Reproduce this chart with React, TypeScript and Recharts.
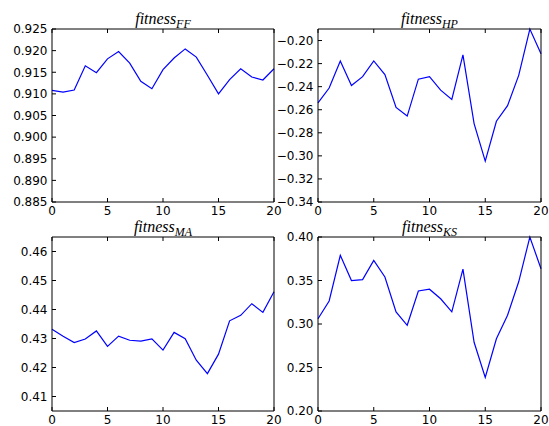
import { LineChart, Line, XAxis, YAxis } from "recharts";

const generations = [0, 1, 2, 3, 4, 5, 6, 7, 8, 9, 10, 11, 12, 13, 14, 15, 16, 17, 18, 19, 20];
const xTicks = [0, 5, 10, 15, 20];

const fitnessFF = [
  0.9108, 0.9104, 0.9109, 0.9165, 0.9149, 0.9181, 0.9198, 0.9171, 0.9129, 0.9112, 0.9156,
  0.9183, 0.9204, 0.9185, 0.9143, 0.91, 0.9133, 0.9158, 0.9139, 0.9132, 0.9158,
];
const fitnessHP = [
  -0.254, -0.2412, -0.2178, -0.239, -0.2313, -0.2177, -0.2295, -0.258, -0.2655, -0.2335, -0.2313,
  -0.243, -0.251, -0.2125, -0.272, -0.3046, -0.27, -0.2565, -0.2302, -0.19, -0.2115,
];
const fitnessMA = [
  0.4332, 0.4308, 0.4286, 0.4298, 0.4326, 0.4273, 0.4308, 0.4294, 0.4291, 0.4299, 0.426,
  0.4321, 0.4299, 0.4225, 0.4179, 0.4246, 0.4361, 0.438, 0.442, 0.439, 0.4461,
];
const fitnessKS = [
  0.306, 0.3265, 0.379, 0.35, 0.351, 0.373, 0.354, 0.3138, 0.2985, 0.338, 0.34,
  0.329, 0.314, 0.363, 0.279, 0.2385, 0.283, 0.31, 0.3485, 0.4, 0.3635,
];

const ticksFF = [0.885, 0.89, 0.895, 0.9, 0.905, 0.91, 0.915, 0.92, 0.925];
const ticksHP = [-0.34, -0.32, -0.3, -0.28, -0.26, -0.24, -0.22, -0.2];
const ticksMA = [0.41, 0.42, 0.43, 0.44, 0.45, 0.46];
const ticksKS = [0.2, 0.25, 0.3, 0.35, 0.4];

const W = 549;
const H = 426;
const font = "DejaVu Sans";
// sizes reserved for the axes
const YW = 40;
const XH = 20;
const EDGE = 5;

type Box = { left: number; right: number; top: number; bottom: number };

type PanelProps = {
  values: number[];
  domain: [number, number];
  ticks: number[];
  digits: number;
  sub: string;
  box: Box;
};

const fmt = (digits: number) => (v: number) => {
  const s = Math.abs(v).toFixed(digits);
  return v < 0 ? "\u2212" + s : s;
};

const Panel = ({ values, domain, ticks, digits, sub, box }: PanelProps) => {
  const data = generations.map((g, i) => ({ x: g, y: values[i] }));
  const tickStyle = { fontFamily: font, fontSize: 12, fill: "#000" };
  const axisLine = { stroke: "#000", strokeWidth: 1 };
  return (
    <>
      <div style={{ position: "absolute", left: 0, top: 0 }}>
        <LineChart
          width={W}
          height={H}
          data={data}
          margin={{
            top: box.top - EDGE,
            left: box.left - YW,
            right: W - box.right - EDGE,
            bottom: H - box.bottom - XH,
          }}
        >
          <XAxis
            xAxisId="b"
            type="number"
            dataKey="x"
            domain={[0, 20]}
            ticks={xTicks}
            interval={0}
            height={XH}
            tickSize={-4}
            tickMargin={8}
            tick={tickStyle}
            axisLine={axisLine}
            tickLine={{ stroke: "#000" }}
          />
          <XAxis
            xAxisId="t"
            orientation="top"
            type="number"
            dataKey="x"
            domain={[0, 20]}
            ticks={xTicks}
            interval={0}
            height={EDGE}
            tickSize={-4}
            tickFormatter={() => ""}
            axisLine={axisLine}
            tickLine={{ stroke: "#000" }}
          />
          <YAxis
            yAxisId="l"
            type="number"
            domain={domain}
            ticks={ticks}
            interval={0}
            width={YW}
            tickSize={-4}
            tickMargin={8.5}
            tick={tickStyle}
            tickFormatter={fmt(digits)}
            axisLine={axisLine}
            tickLine={{ stroke: "#000" }}
          />
          <YAxis
            yAxisId="r"
            orientation="right"
            type="number"
            domain={domain}
            ticks={ticks}
            interval={0}
            width={EDGE}
            tickSize={-4}
            tickFormatter={() => ""}
            axisLine={axisLine}
            tickLine={{ stroke: "#000" }}
          />
          <Line
            xAxisId="b"
            yAxisId="l"
            type="linear"
            dataKey="y"
            stroke="#0000ff"
            strokeWidth={1.2}
            dot={false}
            isAnimationActive={false}
          />
        </LineChart>
      </div>
      <div
        style={{
          position: "absolute",
          left: box.left,
          width: box.right - box.left,
          top: box.top - 16.5,
          textAlign: "center",
          fontFamily: "Liberation Serif",
          fontStyle: "italic",
          fontSize: 16,
          lineHeight: "12px",
          whiteSpace: "nowrap",
        }}
      >
        fitness
        <sub style={{ fontSize: 12, verticalAlign: "-4px", lineHeight: 0 }}>{sub}</sub>
      </div>
    </>
  );
};

export default function App() {
  return (
    <div style={{ position: "absolute", left: 0, top: 0, width: W, height: H, background: "#fff" }}>
      <Panel
        values={fitnessFF}
        domain={[0.885, 0.925]}
        ticks={ticksFF}
        digits={3}
        sub="FF"
        box={{ left: 52, right: 274, top: 29, bottom: 202 }}
      />
      <Panel
        values={fitnessHP}
        domain={[-0.34, -0.19]}
        ticks={ticksHP}
        digits={2}
        sub="HP"
        box={{ left: 318, right: 541, top: 29, bottom: 202 }}
      />
      <Panel
        values={fitnessMA}
        domain={[0.405, 0.465]}
        ticks={ticksMA}
        digits={2}
        sub="MA"
        box={{ left: 52, right: 274, top: 237, bottom: 411 }}
      />
      <Panel
        values={fitnessKS}
        domain={[0.2, 0.4]}
        ticks={ticksKS}
        digits={2}
        sub="KS"
        box={{ left: 318, right: 541, top: 237, bottom: 411 }}
      />
    </div>
  );
}
